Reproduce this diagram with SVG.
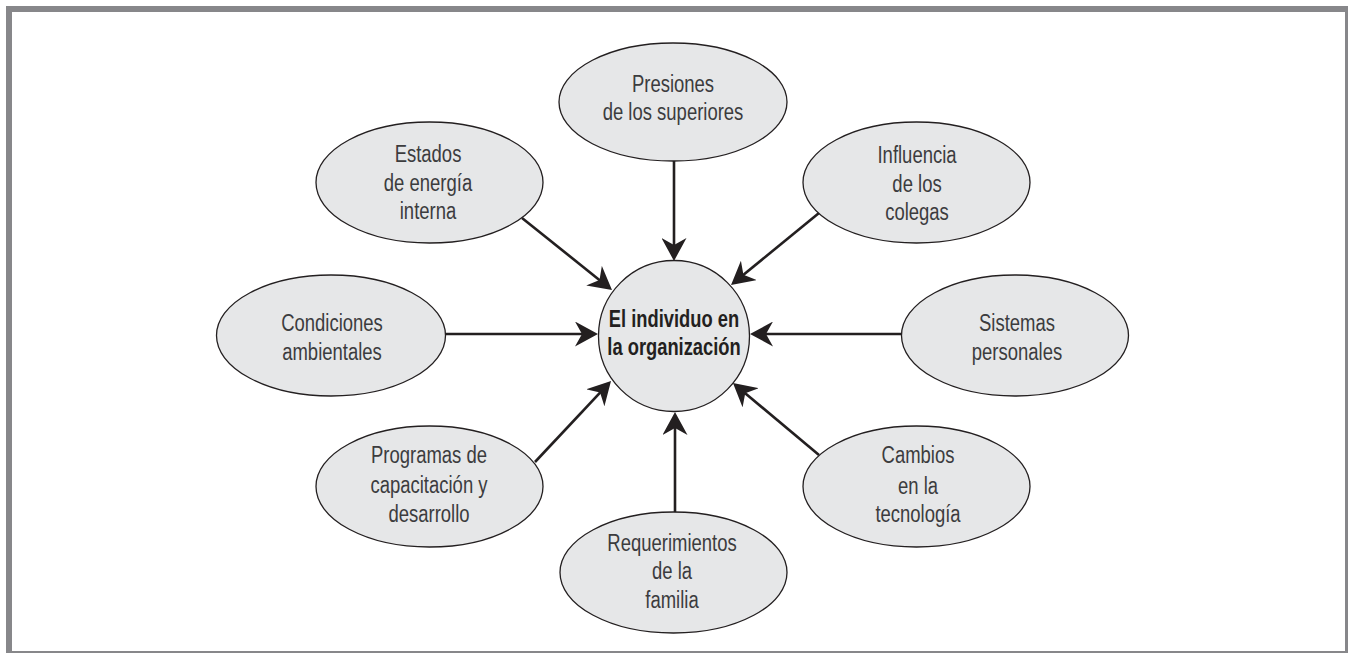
<svg xmlns="http://www.w3.org/2000/svg" width="1348" height="653" viewBox="0 0 1348 653">
<style>
.node{fill:#e6e7e8;stroke:#231f20;stroke-width:1.3}
.lbl{font-family:"Liberation Sans",Arial,sans-serif;font-size:24px;fill:#3c3c3e;text-anchor:middle}
.ctr{font-family:"Liberation Sans",Arial,sans-serif;font-size:23.5px;font-weight:bold;fill:#231f20;text-anchor:middle}
.con{stroke:#231f20;stroke-width:2.6;fill:none;marker-end:url(#ah)}
</style>
<defs>
<marker id="ah" viewBox="0 0 23 25" refX="18" refY="12.5" markerWidth="23" markerHeight="25" markerUnits="userSpaceOnUse" orient="auto">
<path d="M23,12.5 L0,0 L7,12.5 L0,25 Z" fill="#231f20"/>
</marker>
</defs>
<rect x="6" y="6" width="1342" height="647" fill="#87878a"/>
<rect x="12" y="12" width="1333" height="639" fill="#ffffff"/>
<g id="connectors">
<line class="con" x1="674" y1="161" x2="674" y2="256"/>
<line class="con" x1="522" y1="218" x2="608.1" y2="286.9"/>
<line class="con" x1="819" y1="213" x2="734.9" y2="281.8"/>
<line class="con" x1="446" y1="334" x2="593" y2="334"/>
<line class="con" x1="902" y1="334" x2="755" y2="334"/>
<line class="con" x1="535" y1="462" x2="607.6" y2="384.6"/>
<line class="con" x1="819" y1="455" x2="736.8" y2="386.2"/>
<line class="con" x1="675" y1="512" x2="675" y2="417"/>
</g>
<g id="center">
<circle class="node" cx="674" cy="336" r="75.5"/>
<g transform="translate(674 0) scale(0.78 1)">
<text class="ctr" x="0" y="327">El individuo en</text>
<text class="ctr" x="0" y="355">la organización</text>
</g>
</g>
<g id="presiones">
<ellipse class="node" cx="673" cy="102" rx="114" ry="59"/>
<g transform="translate(673 0) scale(0.77 1)">
<text class="lbl" x="0" y="92">Presiones</text>
<text class="lbl" x="0" y="120">de los superiores</text>
</g>
</g>
<g id="estados">
<ellipse class="node" cx="429.5" cy="182.5" rx="113.5" ry="60.5"/>
<g transform="translate(428 0) scale(0.77 1)">
<text class="lbl" x="0" y="162">Estados</text>
<text class="lbl" x="0" y="191">de energía</text>
<text class="lbl" x="0" y="219">interna</text>
</g>
</g>
<g id="influencia">
<ellipse class="node" cx="916.5" cy="182.5" rx="113.5" ry="60.5"/>
<g transform="translate(917 0) scale(0.77 1)">
<text class="lbl" x="0" y="163">Influencia</text>
<text class="lbl" x="0" y="192">de los</text>
<text class="lbl" x="0" y="220">colegas</text>
</g>
</g>
<g id="condiciones">
<ellipse class="node" cx="331" cy="335.5" rx="114.5" ry="60.5"/>
<g transform="translate(332 0) scale(0.77 1)">
<text class="lbl" x="0" y="331">Condiciones</text>
<text class="lbl" x="0" y="360">ambientales</text>
</g>
</g>
<g id="sistemas">
<ellipse class="node" cx="1015" cy="335.5" rx="113.5" ry="60.5"/>
<g transform="translate(1017 0) scale(0.77 1)">
<text class="lbl" x="0" y="331">Sistemas</text>
<text class="lbl" x="0" y="360">personales</text>
</g>
</g>
<g id="programas">
<ellipse class="node" cx="429.5" cy="486.5" rx="113.5" ry="60.5"/>
<g transform="translate(429 0) scale(0.77 1)">
<text class="lbl" x="0" y="463">Programas de</text>
<text class="lbl" x="0" y="493">capacitación y</text>
<text class="lbl" x="0" y="522">desarrollo</text>
</g>
</g>
<g id="cambios">
<ellipse class="node" cx="916.5" cy="486.5" rx="113.5" ry="60.5"/>
<g transform="translate(918 0) scale(0.77 1)">
<text class="lbl" x="0" y="463">Cambios</text>
<text class="lbl" x="0" y="494">en la</text>
<text class="lbl" x="0" y="522">tecnología</text>
</g>
</g>
<g id="requerimientos">
<ellipse class="node" cx="673.5" cy="572.5" rx="113.5" ry="60.5"/>
<g transform="translate(672 0) scale(0.77 1)">
<text class="lbl" x="0" y="551">Requerimientos</text>
<text class="lbl" x="0" y="579">de la</text>
<text class="lbl" x="0" y="608">familia</text>
</g>
</g>
</svg>
